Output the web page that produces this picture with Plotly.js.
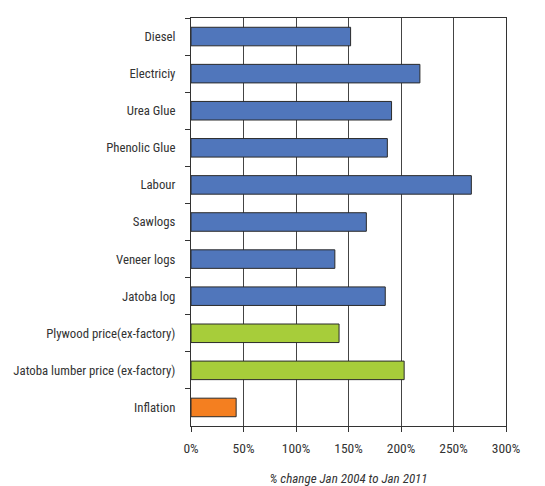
<!DOCTYPE html>
<html>
<head>
<meta charset="utf-8">
<script src="https://cdn.plot.ly/plotly-3.0.1.min.js"></script>
<style>html,body{margin:0;padding:0;background:#fff;}#chart{width:545px;height:486px;}</style>
</head>
<body>
<div id="chart"></div>
<script>
// Data (% change Jan 2004 to Jan 2011)
const costCategories = ["Diesel", "Electriciy", "Urea Glue", "Phenolic Glue", "Labour", "Sawlogs", "Veneer logs", "Jatoba log"];
const costValues = [152, 218, 191, 187, 267, 167, 137, 185];
const priceCategories = ["Plywood price(ex-factory)", "Jatoba lumber price (ex-factory)"];
const priceValues = [141, 203];
const inflationCategories = ["Inflation"];
const inflationValues = [43];
const allCategories = costCategories.concat(priceCategories, inflationCategories);
const xTickValues = [0, 50, 100, 150, 200, 250, 300];
const xTickLabels = ["0%", "50%", "100%", "150%", "200%", "250%", "300%"];

const outline = {color: "#2a2a2a", width: 1};
const traces = [
  {type: "bar", orientation: "h", y: costCategories, x: costValues, marker: {color: "#5076BB", line: outline}, hoverinfo: "x+y"},
  {type: "bar", orientation: "h", y: priceCategories, x: priceValues, marker: {color: "#A7CD3A", line: outline}, hoverinfo: "x+y"},
  {type: "bar", orientation: "h", y: inflationCategories, x: inflationValues, marker: {color: "#F47F20", line: outline}, hoverinfo: "x+y"}
];

const fam = "Roboto Condensed, Liberation Sans, sans-serif";
const layout = {
  width: 545, height: 486,
  margin: {l: 191, r: 39, t: 18, b: 60, pad: 0},
  paper_bgcolor: "#fff", plot_bgcolor: "#fff",
  showlegend: false,
  barmode: "overlay",
  bargap: 0.5,
  font: {family: fam, size: 13, color: "#333"},
  xaxis: {
    range: [0, 300],
    tickvals: xTickValues, ticktext: xTickLabels,
    showgrid: true, gridcolor: "#444", gridwidth: 1,
    showline: true, linecolor: "#333", linewidth: 1, mirror: true,
    ticks: "outside", ticklen: 5, tickcolor: "#333",
    ticklabelstandoff: 5,
    zeroline: false,
    tickfont: {family: fam, size: 13.5, color: "#333"},
    title: {text: "% change Jan 2004 to Jan 2011", font: {family: fam, size: 13, color: "#333"}, standoff: 19},
    fixedrange: true
  },
  yaxis: {
    type: "category",
    categoryorder: "array", categoryarray: allCategories,
    autorange: "reversed",
    tickson: "boundaries",
    showgrid: false,
    showline: true, linecolor: "#333", linewidth: 1, mirror: true,
    ticks: "outside", ticklen: 5, tickcolor: "#333",
    ticklabelstandoff: 12,
    tickfont: {family: fam, size: 12.8, color: "#333"},
    fixedrange: true
  }
};

Plotly.newPlot("chart", traces, layout, {displayModeBar: false, staticPlot: true}).then(function(){
  const t = document.querySelector(".xtitle");
  if (t) t.style.fontStyle = "italic";
});
</script>
</body>
</html>
